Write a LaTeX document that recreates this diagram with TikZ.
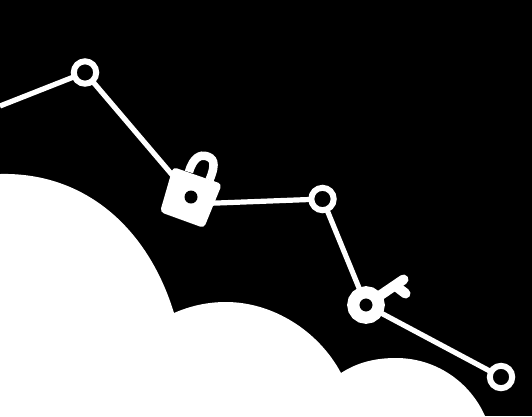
\documentclass[tikz,border=0pt]{standalone}
\begin{document}
\begin{tikzpicture}[x=1pt,y=-1pt,
  link/.style={draw=white,line width=5.2pt},
  waypoint/.style={circle,draw=white,fill=black,line width=6pt,minimum size=22.4pt,inner sep=0pt},
  keyring/.style={circle,draw=white,fill=black,line width=12.1pt,minimum size=25.5pt,inner sep=0pt},
  keybit/.style={draw=white,line width=10pt,line cap=round},
  cloudshape/.style={fill=white}]
\fill[black] (0,0) rectangle (532,416);
\useasboundingbox (0,0) rectangle (532,416);
% clouds
\path[cloudshape] (0,174) .. controls (85,172) and (148,228) .. (174,313)
  .. controls (190,306) and (207,302) .. (226,302)
  .. controls (272,302) and (318,330) .. (341,373)
  .. controls (358,362) and (376,358) .. (396,358)
  .. controls (436,358) and (470,382) .. (485,416)
  -- (0,416) -- cycle;
% anchors
\coordinate (start) at (0,106);
\coordinate (lockin) at (191,197);
\coordinate (lockout) at (191,204);
\coordinate (keyc) at (366,305);
\coordinate (ac) at (85,72.5);
\coordinate (bc) at (322.5,199);
\coordinate (dc) at (501,377);
% connectors
\draw[link] (start) -- (ac);
\draw[link] (ac) -- (lockin);
\draw[link] (lockout) -- (bc);
\draw[link] (bc) -- (keyc);
\draw[link] (keyc) -- (dc);
% rings
\node[waypoint] (a) at (ac) {};
\node[waypoint] (b) at (bc) {};
\node[waypoint] (d) at (dc) {};
% key
\draw[keybit] (keyc) -- (403.5,279.5);
\draw[keybit] (395,285.5) -- (405.5,293.5);
\node[keyring] (k) at (keyc) {};
% padlock
\draw[white,line width=8.5pt] (189,172) .. controls (193,157) and (201,154.5) .. (206,156)
  .. controls (213,158) and (217,162) .. (209.5,180);
\fill[white,rounded corners=4pt] (173,167) -- (222,184) -- (204,228) -- (160,212) -- cycle;
\node[circle,fill=black,minimum size=13pt,inner sep=0pt] (hole) at (191,197) {};
\end{tikzpicture}
\end{document}
